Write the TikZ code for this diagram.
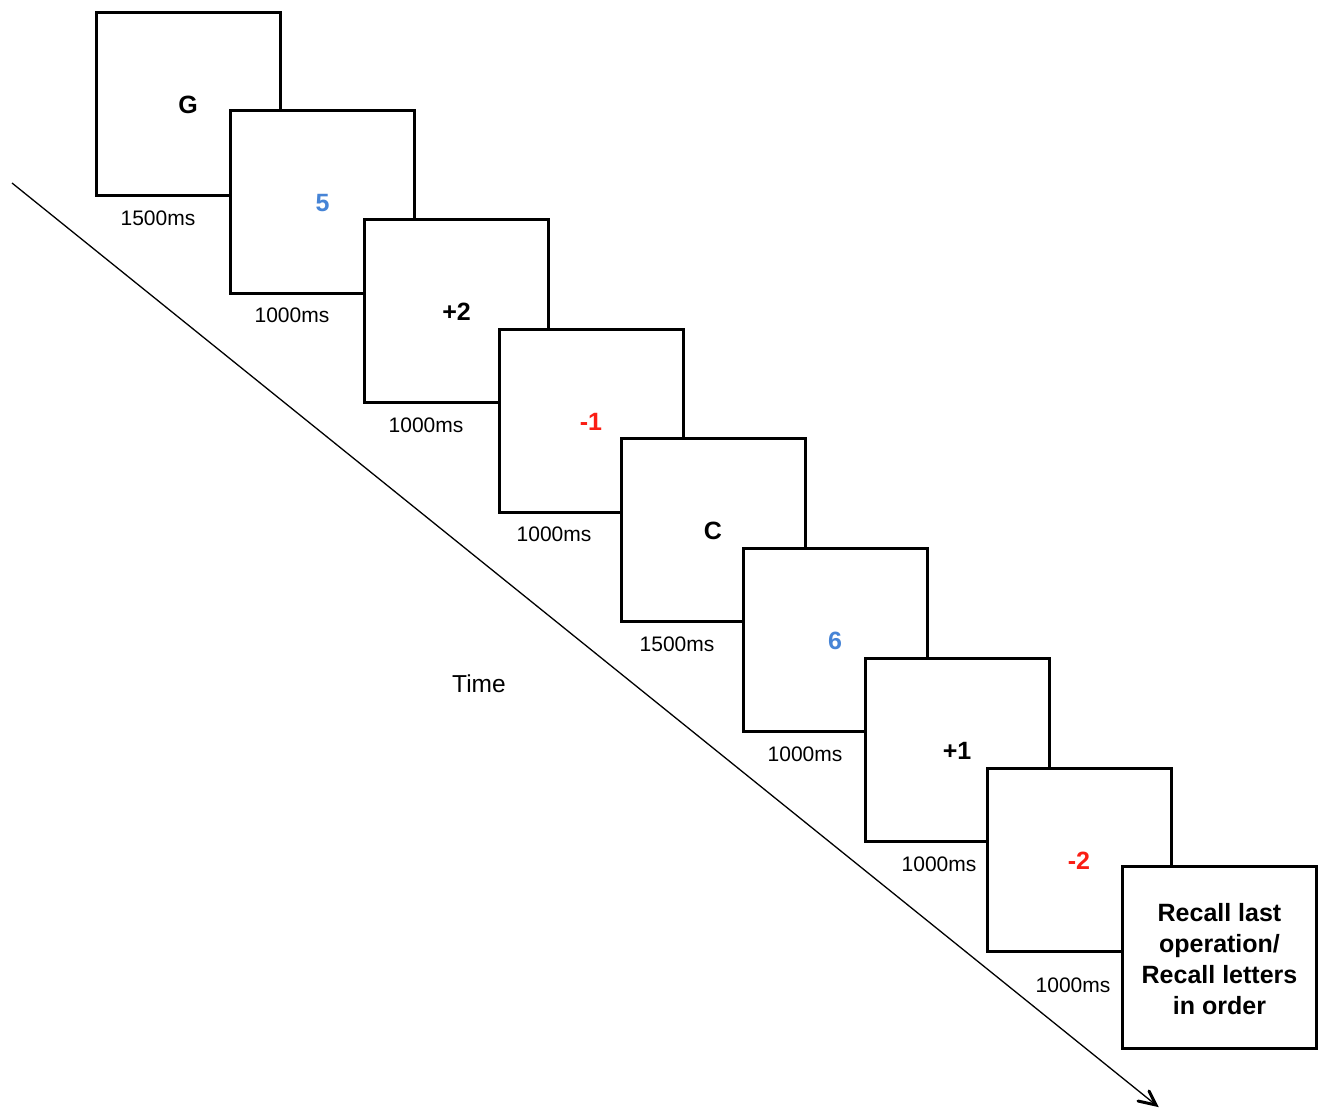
\documentclass[tikz,border=0pt]{standalone}
\usepackage{fontspec}
\setmainfont{Liberation Sans}
\usetikzlibrary{arrows.meta}
\definecolor{numblue}{RGB}{70,132,214}
\definecolor{opred}{RGB}{250,30,20}
\begin{document}
\begin{tikzpicture}[x=1pt,y=-1pt,
  screen/.style={draw=black,line width=3pt,fill=white,minimum width=184pt,minimum height=183pt,inner sep=0pt,text depth=0pt,font=\fontsize{25}{30}\selectfont\bfseries},
  dur/.style={font=\fontsize{21}{25}\selectfont,inner sep=0pt},
  barb/.style={line width=3pt,line cap=round,line join=miter}]
\useasboundingbox (0,0) rectangle (1318,1109);
\coordinate (tstart) at (12,183);
\coordinate (tend) at (1156,1105);
\draw[line width=1.3pt] (tstart) -- (tend);
\draw[barb] ([shift={(-7,-14)}]tend) -- (tend) -- ([shift={(-18,-4)}]tend);
\node[dur,font=\fontsize{24.5}{29}\selectfont] (time) at (479,684) {Time};
% screens
\node[screen] (s1) at (188,104) {\raisebox{-2pt}{G}};
\node[dur] (d1) at (158,218) {1500ms};
\node[screen,text=numblue] (s2) at (322.5,201.5) {\raisebox{-2pt}{5}};
\node[dur] (d2) at (292,315) {1000ms};
\node[screen] (s3) at (456.5,310.5) {\raisebox{-2pt}{+2}};
\node[dur] (d3) at (426,425) {1000ms};
\node[screen,text=opred] (s4) at (591,420.5) {\raisebox{-2pt}{-1}};
\node[dur] (d4) at (554,534) {1000ms};
\node[screen] (s5) at (713,530) {\raisebox{-2pt}{C}};
\node[dur] (d5) at (677,644) {1500ms};
\node[screen,text=numblue] (s6) at (835,639.5) {\raisebox{-2pt}{6}};
\node[dur] (d6) at (805,754) {1000ms};
\node[screen] (s7) at (957,749.5) {\raisebox{-2pt}{+1}};
\node[dur] (d7) at (939,864) {1000ms};
\node[screen,text=opred] (s8) at (1079,859.5) {\raisebox{-2pt}{-2}};
\node[dur] (d8) at (1073,985) {1000ms};
\node[screen,minimum width=194pt,minimum height=182pt] (s9) at (1219.5,957) {};
\node[align=center,inner sep=0pt,font=\fontsize{25}{31}\selectfont\bfseries] (s9text) at ([yshift=-2pt]s9.center) {Recall last\\operation/\\Recall letters\\in order};
\end{tikzpicture}
\end{document}
